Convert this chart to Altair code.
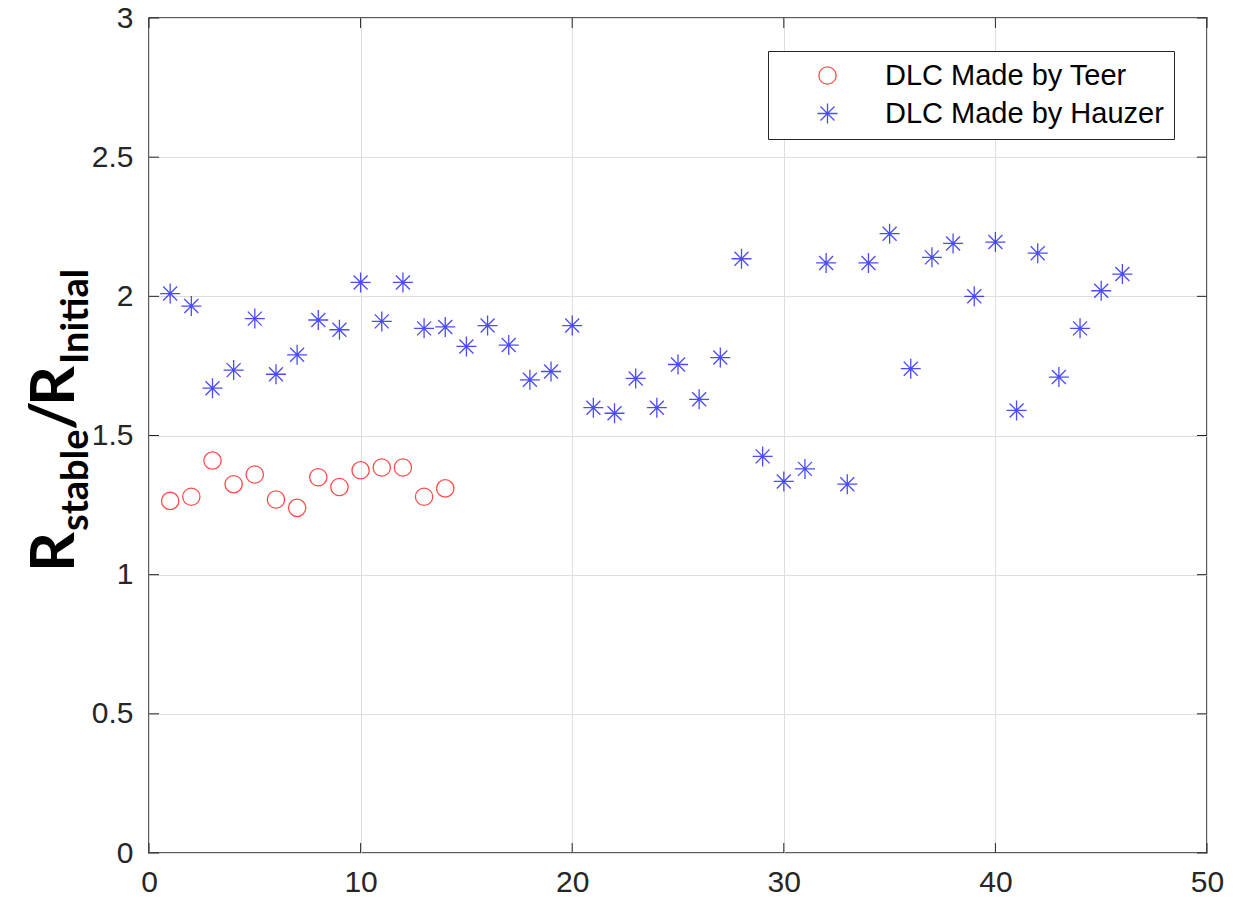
import altair as alt
import pandas as pd

# ---- data ----
teer_n = list(range(1, 15))
teer_ratio = [1.265, 1.28, 1.41, 1.325, 1.36, 1.27, 1.24, 1.35, 1.315, 1.375,
              1.385, 1.385, 1.28, 1.31]

hauzer_n = list(range(1, 47))
hauzer_ratio = [2.01, 1.965, 1.67, 1.735, 1.92, 1.72, 1.79, 1.915, 1.88, 2.05,
                1.91, 2.05, 1.885, 1.89, 1.82, 1.895, 1.825, 1.70, 1.73, 1.895,
                1.60, 1.58, 1.705, 1.60, 1.755, 1.63, 1.78, 2.135, 1.425, 1.335,
                1.38, 2.12, 1.325, 2.12, 2.225, 1.74, 2.14, 2.19, 2.00, 2.195,
                1.59, 2.155, 1.71, 1.885, 2.02, 2.08]

series_names = ["DLC Made by Teer", "DLC Made by Hauzer"]
x_ticks = [0, 10, 20, 30, 40, 50]
y_ticks = [0, 0.5, 1, 1.5, 2, 2.5, 3]

W, H = 1058, 835
TICK = 10
ASTERISK = "M-1,0L1,0M0,-1L0,1M-0.7,-0.7L0.7,0.7M-0.7,0.7L0.7,-0.7"

df = pd.DataFrame({
    "n": teer_n + hauzer_n,
    "ratio": teer_ratio + hauzer_ratio,
    "series": [series_names[0]] * len(teer_n) + [series_names[1]] * len(hauzer_n),
})
xt = pd.DataFrame({"v": x_ticks})
yt = pd.DataFrame({"v": y_ticks})

xscale = alt.Scale(domain=[0, 50], nice=False)
yscale = alt.Scale(domain=[0, 3], nice=False)

points = alt.Chart(df).mark_point(filled=False, strokeWidth=1.3).encode(
    x=alt.X("n:Q", scale=xscale,
            axis=alt.Axis(values=x_ticks, title=None, grid=True, ticks=False,
                          domain=False, labelPadding=14, format="~g",
                          labelFlush=False)),
    y=alt.Y("ratio:Q", scale=yscale,
            axis=alt.Axis(values=y_ticks, title=None, grid=True, ticks=False,
                          domain=False, labelPadding=16, format="~g",
                          labelFlush=False)),
    color=alt.Color("series:N",
                    scale=alt.Scale(domain=series_names, range=["#ff0000", "#0000ff"]),
                    legend=alt.Legend(title=None, orient="none", legendX=619, legendY=33,
                                      padding=10, fillColor="white", strokeColor="#262626",
                                      labelFontSize=29, labelFont="Liberation Sans",
                                      labelColor="black", symbolOffset=35, labelOffset=43,
                                      rowPadding=8, symbolStrokeWidth=1.3,
                                      labelLimit=600)),
    shape=alt.Shape("series:N",
                    scale=alt.Scale(domain=series_names, range=["circle", ASTERISK])),
    size=alt.Size("series:N",
                  scale=alt.Scale(domain=series_names, range=[300, 400]),
                  legend=None),
)

tick_color = "#262626"
bottom_ticks = alt.Chart(xt).mark_rule(color=tick_color, strokeWidth=1).encode(
    x=alt.X("v:Q", scale=xscale), y=alt.value(H), y2=alt.value(H - TICK))
top_ticks = alt.Chart(xt).mark_rule(color=tick_color, strokeWidth=1).encode(
    x=alt.X("v:Q", scale=xscale), y=alt.value(0), y2=alt.value(TICK))
left_ticks = alt.Chart(yt).mark_rule(color=tick_color, strokeWidth=1).encode(
    y=alt.Y("v:Q", scale=yscale), x=alt.value(0), x2=alt.value(TICK))
right_ticks = alt.Chart(yt).mark_rule(color=tick_color, strokeWidth=1).encode(
    y=alt.Y("v:Q", scale=yscale), x=alt.value(W), x2=alt.value(W - TICK))

# ---- y-axis title: R_stable / R_Initial ----
title_parts = [
    ("R", 62, -75, 554),
    ("stable", 38, -61, 513),
    ("/", 62, -75, 412),
    ("R", 62, -75, 388),
    ("Initial", 38, -61, 346),
]
title_layers = []
for txt, fs, px, py in title_parts:
    title_layers.append(
        alt.Chart(pd.DataFrame({"t": [txt]})).mark_text(
            font="Lato", fontWeight="bold", fontSize=fs, angle=270,
            align="left", baseline="alphabetic", color="black",
        ).encode(text="t:N", x=alt.value(px), y=alt.value(py))
    )

chart = alt.layer(
    bottom_ticks, top_ticks, left_ticks, right_ticks, points, *title_layers
).properties(
    width=W, height=H,
    autosize=alt.AutoSizeParams(type="none"),
    padding={"left": 149, "top": 18, "right": 39, "bottom": 50},
    background="white",
).configure_view(
    stroke="#262626", strokeWidth=1.5
).configure_axis(
    gridColor="#dedede", gridWidth=1, labelFont="Liberation Sans",
    labelFontSize=30, labelColor="#262626"
)

chart.save("out.html", embed_options={"renderer": "svg", "actions": False})
